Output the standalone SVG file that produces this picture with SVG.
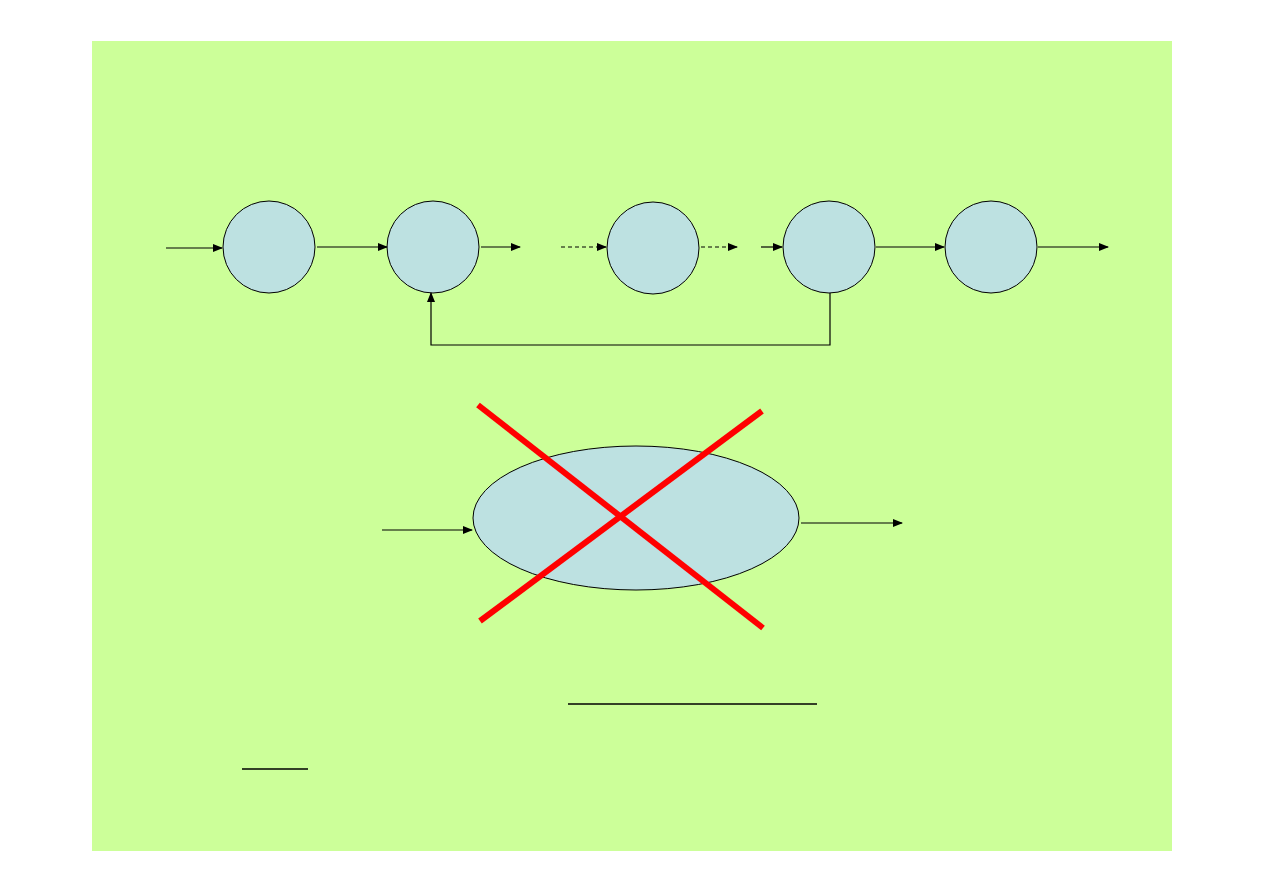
<svg xmlns="http://www.w3.org/2000/svg" width="1263" height="893" viewBox="0 0 1263 893">
<defs>
<style>
.n{fill:#bde1e1;stroke:#000;stroke-width:1}
.c{stroke:#000;stroke-width:1.2;fill:none}
.d{stroke-dasharray:4,3}
.x{stroke:#f00;stroke-width:6}
</style>
<marker id="a" markerWidth="10" markerHeight="8" refX="9" refY="4" orient="auto" markerUnits="userSpaceOnUse"><path d="M0,0L10,4L0,8z" fill="#000"/></marker>
</defs>
<rect width="1263" height="893" fill="#fff"/>
<rect x="92" y="41" width="1080" height="810" fill="#ccff99"/>
<g id="n1"><circle class="n" cx="269" cy="247" r="46"/></g>
<g id="n2"><circle class="n" cx="433" cy="247" r="46"/></g>
<g id="n3"><circle class="n" cx="653" cy="248" r="46"/></g>
<g id="n4"><circle class="n" cx="829" cy="247" r="46"/></g>
<g id="n5"><circle class="n" cx="991" cy="247" r="46"/></g>
<g id="n6"><ellipse class="n" cx="636" cy="518" rx="163" ry="72"/></g>
<g id="connectors">
<line class="c" x1="166" y1="248" x2="222" y2="248" marker-end="url(#a)"/>
<line class="c" x1="317" y1="247" x2="387" y2="247" marker-end="url(#a)"/>
<line class="c" x1="481" y1="247" x2="520" y2="247" marker-end="url(#a)"/>
<line class="c d" x1="561" y1="247" x2="606" y2="247" marker-end="url(#a)"/>
<line class="c d" x1="701" y1="247" x2="737" y2="247" marker-end="url(#a)"/>
<line class="c" x1="761" y1="247" x2="782" y2="247" marker-end="url(#a)"/>
<line class="c" x1="876" y1="247" x2="944" y2="247" marker-end="url(#a)"/>
<line class="c" x1="1038" y1="247" x2="1108" y2="247" marker-end="url(#a)"/>
<polyline class="c" points="830,293 830,345 431,345 431,293" marker-end="url(#a)"/>
<line class="c" x1="382" y1="530" x2="472" y2="530" marker-end="url(#a)"/>
<line class="c" x1="801" y1="523" x2="902" y2="523" marker-end="url(#a)"/>
</g>
<line class="x" x1="478" y1="405" x2="763" y2="628"/>
<line class="x" x1="480" y1="621" x2="762" y2="411"/>
<line x1="568" y1="704" x2="817" y2="704" stroke="#000" stroke-width="1.5"/>
<line x1="242" y1="769" x2="308" y2="769" stroke="#000" stroke-width="1.5"/>
</svg>
